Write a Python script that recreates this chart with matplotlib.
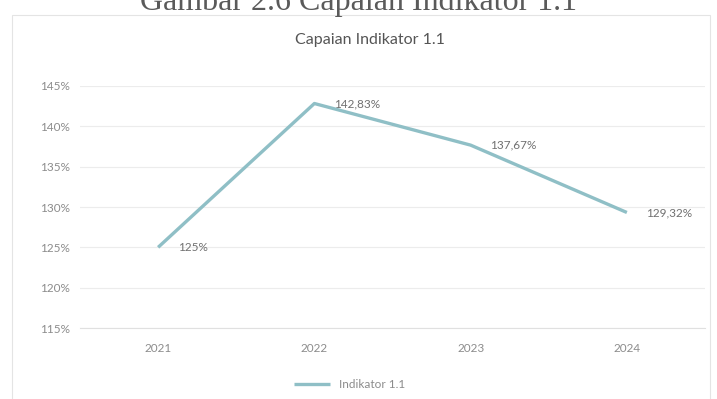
import matplotlib
matplotlib.use("Agg")
import matplotlib.pyplot as plt
from matplotlib.patches import Rectangle

years = ["2021", "2022", "2023", "2024"]
values = [125.0, 142.83, 137.67, 129.32]
value_labels = ["125%", "142,83%", "137,67%", "129,32%"]
y_ticks = [115, 120, 125, 130, 135, 140, 145]
series_name = "Indikator 1.1"
chart_title = "Capaian Indikator 1.1"
figure_caption = "Gambar 2.6 Capaian Indikator 1.1"

line_color = "#8fbfc6"
text_color = "#707070"
tick_color = "#8c8c8c"

fig = plt.figure(figsize=(7.17, 3.99), dpi=100)
fig.patch.set_facecolor("white")

# caption of the figure in the document (partly above the page edge)
fig.text(358 / 717, 1 - 10 / 399, figure_caption, ha="center", va="baseline",
         fontsize=23, family="Liberation Serif", color="#5a5a5a")

# chart frame
fig.patches.append(Rectangle((12 / 717, -0.01), 698 / 717, 1 - 15 / 399 + 0.01,
                             transform=fig.transFigure, facecolor="none",
                             edgecolor="#e4e4e4", linewidth=0.8, zorder=0))

ax = fig.add_axes([80 / 717, 1 - 328 / 399, 625 / 717, 242 / 399])
ax.set_facecolor("none")
x = list(range(len(years)))
ax.plot(x, values, color=line_color, linewidth=2.4, solid_capstyle="butt",
        label=series_name, zorder=3)

for xi, v, lab in zip(x, values, value_labels):
    ax.annotate(lab, (xi, v), xytext=(14, 0), textcoords="offset points",
                ha="left", va="center", fontsize=8.5, color=text_color,
                family="Lato")

ax.set_xlim(-0.5, len(years) - 0.5)
ax.set_ylim(115, 145)
ax.set_yticks(y_ticks)
ax.set_yticklabels([f"{t}%" for t in y_ticks])
ax.set_xticks(x)
ax.set_xticklabels(years)
ax.tick_params(axis="both", length=0, labelsize=8.5, labelcolor=tick_color)
ax.tick_params(axis="y", pad=7)
ax.tick_params(axis="x", pad=11)
for lbl in ax.get_xticklabels() + ax.get_yticklabels():
    lbl.set_family("Lato")
ax.grid(axis="y", color="#ececec", linewidth=0.8)
for side in ["top", "right", "left"]:
    ax.spines[side].set_visible(False)
ax.spines["bottom"].set_color("#e0e0e0")
ax.spines["bottom"].set_linewidth(0.8)

fig.text(370 / 717, 1 - 40 / 399, chart_title, ha="center", va="center",
         fontsize=11.5, family="Lato", color="#555555")

leg = fig.legend(loc="center", bbox_to_anchor=(350 / 717, 1 - 385 / 399),
                 frameon=False, handlelength=3.0,
                 prop={"family": "Lato", "size": 8.5})
for t in leg.get_texts():
    t.set_color(tick_color)

fig.savefig("out.png", dpi=100, facecolor="white")
